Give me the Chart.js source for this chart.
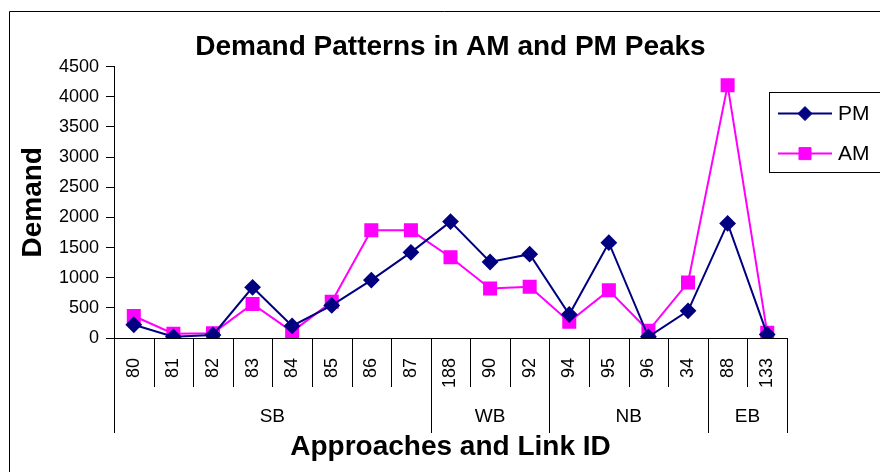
<!DOCTYPE html>
<html>
<head>
<meta charset="utf-8">
<script src="https://cdn.jsdelivr.net/npm/chart.js@4.4.1/dist/chart.umd.min.js"></script>
<style>
  body { margin: 0; background: #fff; }
  canvas { display: block; }
</style>
</head>
<body>
<canvas id="demandChart" width="880" height="472"></canvas>
<script>
// Link IDs along the x axis, grouped by approach
const linkIds = ["80", "81", "82", "83", "84", "85", "86", "87", "188", "90", "92", "94", "95", "96", "34", "88", "133"];
const approaches = ["SB", "WB", "NB", "EB"];
const approachSizes = [8, 3, 4, 2];

// Demand values
const pmDemand = [220, 20, 50, 840, 200, 540, 960, 1420, 1930, 1260, 1390, 390, 1580, 20, 450, 1900, 60];
const amDemand = [365, 70, 80, 565, 105, 600, 1785, 1785, 1340, 820, 850, 270, 790, 120, 920, 4190, 85];

const yTicks = { min: 0, max: 4500, step: 500 };

const FONT = "Arial, 'Liberation Sans', sans-serif";

// Outer frame of the chart object (only top and left edges are visible)
const framePlugin = {
  id: "frame",
  beforeDraw(chart) {
    const ctx = chart.ctx;
    ctx.save();
    ctx.fillStyle = "#fff";
    ctx.fillRect(0, 0, chart.width, chart.height);
    ctx.strokeStyle = "#000";
    ctx.lineWidth = 1;
    ctx.beginPath();
    ctx.moveTo(9.5, chart.height);
    ctx.lineTo(9.5, 11.5);
    ctx.lineTo(chart.width, 11.5);
    ctx.stroke();
    ctx.restore();
  },
};

// Separators between link IDs and approach group labels under the x axis
const groupAxisPlugin = {
  id: "groupAxis",
  afterDraw(chart) {
    const ctx = chart.ctx;
    const x = chart.scales.x;
    const step = x.getPixelForValue(1) - x.getPixelForValue(0);
    const start = x.getPixelForValue(0) - step / 2;
    const axisY = x.top;
    const groupEnds = [];
    let acc = 0;
    approachSizes.forEach((n) => { acc += n; groupEnds.push(acc); });

    ctx.save();
    ctx.strokeStyle = "#000";
    ctx.lineWidth = 1;
    for (let i = 0; i <= linkIds.length; i++) {
      const px = Math.round(start + i * step) + 0.5;
      const isGroup = i === 0 || groupEnds.includes(i);
      ctx.beginPath();
      ctx.moveTo(px, axisY);
      ctx.lineTo(px, axisY + (isGroup ? 95 : 49));
      ctx.stroke();
    }
    ctx.fillStyle = "#000";
    ctx.font = "19px " + FONT;
    ctx.textAlign = "center";
    ctx.textBaseline = "middle";
    let first = 0;
    approaches.forEach((name, g) => {
      const last = groupEnds[g];
      const cx = start + ((first + last) / 2) * step;
      ctx.fillText(name, cx, axisY + 79);
      first = last;
    });
    ctx.restore();
  },
};

// Boxed legend overlapping the top-right corner of the plot
const boxLegendPlugin = {
  id: "boxLegend",
  afterDraw(chart) {
    const ctx = chart.ctx;
    const area = chart.chartArea;
    const left = area.right - 18;
    const top = area.top + 25;
    ctx.save();
    ctx.strokeStyle = "#000";
    ctx.lineWidth = 1;
    ctx.strokeRect(Math.round(left) + 0.5, Math.round(top) + 0.5, 200, 80);
    chart.data.datasets.forEach((ds, i) => {
      const y = top + 22 + i * 40;
      ctx.strokeStyle = ds.borderColor;
      ctx.lineWidth = 2;
      ctx.beginPath();
      ctx.moveTo(left + 9, y);
      ctx.lineTo(left + 63, y);
      ctx.stroke();
      ctx.fillStyle = ds.pointBackgroundColor;
      ctx.strokeStyle = ds.pointBorderColor;
      ctx.lineWidth = 1;
      Chart.helpers.drawPoint(ctx, { pointStyle: ds.pointStyle, radius: ds.pointRadius, rotation: 0, borderWidth: 1 }, left + 36, y);
      ctx.fillStyle = "#000";
      ctx.font = "21px " + FONT;
      ctx.textAlign = "left";
      ctx.textBaseline = "middle";
      ctx.fillText(ds.label, left + 69, y + 1);
    });
    ctx.restore();
  },
};

const ctx = document.getElementById("demandChart").getContext("2d");
new Chart(ctx, {
  type: "line",
  data: {
    labels: linkIds,
    datasets: [
      {
        label: "PM",
        data: pmDemand,
        borderColor: "#000080",
        backgroundColor: "#000080",
        pointBackgroundColor: "#000080",
        pointBorderColor: "#000080",
        pointStyle: "rectRot",
        pointRadius: 7,
        borderWidth: 2,
        tension: 0,
      },
      {
        label: "AM",
        data: amDemand,
        borderColor: "#FF00FF",
        backgroundColor: "#FF00FF",
        pointBackgroundColor: "#FF00FF",
        pointBorderColor: "#FF00FF",
        pointStyle: "rect",
        pointRadius: 8.5,
        borderWidth: 2,
        tension: 0,
      },
    ],
  },
  options: {
    responsive: false,
    animation: false,
    devicePixelRatio: 1,
    layout: { padding: { top: 11, left: 10, right: 93, bottom: 0 } },
    plugins: {
      legend: { display: false },
      tooltip: { enabled: false },
      title: {
        display: true,
        text: "Demand Patterns in AM and PM Peaks",
        fullSize: false,
        color: "#000",
        font: { family: FONT, size: 28, weight: "bold" },
        padding: { top: 19, bottom: 3 },
      },
    },
    scales: {
      x: {
        type: "category",
        offset: true,
        grid: { display: false },
        border: { display: true, color: "#000", width: 1 },
        ticks: {
          color: "#000",
          font: { family: FONT, size: 18 },
          minRotation: 90,
          maxRotation: 90,
          padding: 12,
          autoSkip: false,
        },
        title: {
          display: true,
          text: "Approaches and Link ID",
          color: "#000",
          font: { family: FONT, size: 28, weight: "bold" },
          padding: { top: 0, bottom: 8 },
        },
        afterFit(scale) { scale.height = 134; },
      },
      y: {
        min: yTicks.min,
        max: yTicks.max,
        grid: { drawOnChartArea: false, drawTicks: true, tickLength: 8, color: "#000" },
        border: { display: true, color: "#000", width: 1 },
        ticks: {
          stepSize: yTicks.step,
          color: "#000",
          font: { family: FONT, size: 18 },
          padding: 7,
          callback: (value) => String(value),
        },
        title: {
          display: true,
          text: "Demand",
          color: "#000",
          font: { family: FONT, size: 28, weight: "bold" },
          padding: { top: 6, bottom: 0 },
        },
        afterFit(scale) { scale.width = 104; },
      },
    },
  },
  plugins: [framePlugin, groupAxisPlugin, boxLegendPlugin],
});
</script>
</body>
</html>
